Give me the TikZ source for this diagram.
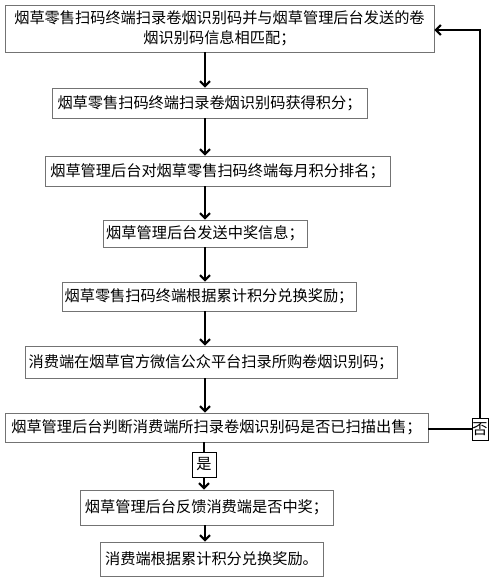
\documentclass[tikz,border=0pt]{standalone}
\usepackage{fontspec}
\setmainfont{Noto Sans CJK SC}
\usetikzlibrary{arrows.meta}
\begin{document}
\begin{tikzpicture}[x=1pt,y=-1pt,
  box/.style={draw=black!55,line width=0.9pt,inner sep=0pt,align=center,
    font=\fontsize{15.2}{20}\selectfont},
  arr/.style={line width=2pt,-{Straight Barb[length=5pt,width=10pt,line width=2pt]}},
  wire/.style={line width=2pt}]
\useasboundingbox (0,0) rectangle (500,581);
\coordinate (ax) at (205,0);
\node[box,minimum width=429pt,minimum height=47pt] (b1) at (219.5,28.5)
  {烟草零售扫码终端扫录卷烟识别码并与烟草管理后台发送的卷\\烟识别码信息相匹配；};
\node[box,minimum width=315pt,minimum height=30pt] (b2) at (209.5,103)
  {烟草零售扫码终端扫录卷烟识别码获得积分；};
\node[box,minimum width=345pt,minimum height=30pt] (b3) at (217.5,171)
  {烟草管理后台对烟草零售扫码终端每月积分排名；};
\node[box,minimum width=204pt,minimum height=27pt] (b4) at (205,233.5)
  {烟草管理后台发送中奖信息；};
\node[box,minimum width=294pt,minimum height=29pt] (b5) at (209,296.5)
  {烟草零售扫码终端根据累计积分兑换奖励；};
\node[box,minimum width=372pt,minimum height=32pt] (b6) at (211,362)
  {消费端在烟草官方微信公众平台扫录所购卷烟识别码；};
\node[box,minimum width=423pt,minimum height=29pt] (b7) at (216.5,427.5)
  {烟草管理后台判断消费端所扫录卷烟识别码是否已扫描出售；};
\node[box,draw=black,minimum width=24pt,minimum height=25pt] (yes) at (204,464.5) {是};
\node[box,draw=black,minimum width=16pt,minimum height=22pt] (no) at (480,429) {否};
\node[box,minimum width=253pt,minimum height=35pt] (b8) at (206.5,507.5)
  {烟草管理后台反馈消费端是否中奖；};
\node[box,minimum width=223pt,minimum height=34pt] (b9) at (211.5,559)
  {消费端根据累计积分兑换奖励。};
\draw[arr] (b1.south -| ax) -- (b2.north -| ax);
\draw[arr] (b2.south -| ax) -- (b3.north -| ax);
\draw[arr] (b3.south -| ax) -- (b4.north -| ax);
\draw[arr] (b4.south -| ax) -- (b5.north -| ax);
\draw[arr] (b5.south -| ax) -- (b6.north -| ax);
\draw[arr] (b6.south -| ax) -- (b7.north -| ax);
\draw[wire] (b7.south -| yes) -- (yes.north);
\draw[arr] (yes.south) -- (b8.north -| yes);
\draw[arr] (b8.south -| ax) -- (b9.north -| ax);
\draw[wire] (b7.east |- no) -- (no.west);
\coordinate (turn) at (no.north |- 0,30);
\draw[arr] (no.north) -- (turn) -- (b1.east |- turn);
\end{tikzpicture}
\end{document}
